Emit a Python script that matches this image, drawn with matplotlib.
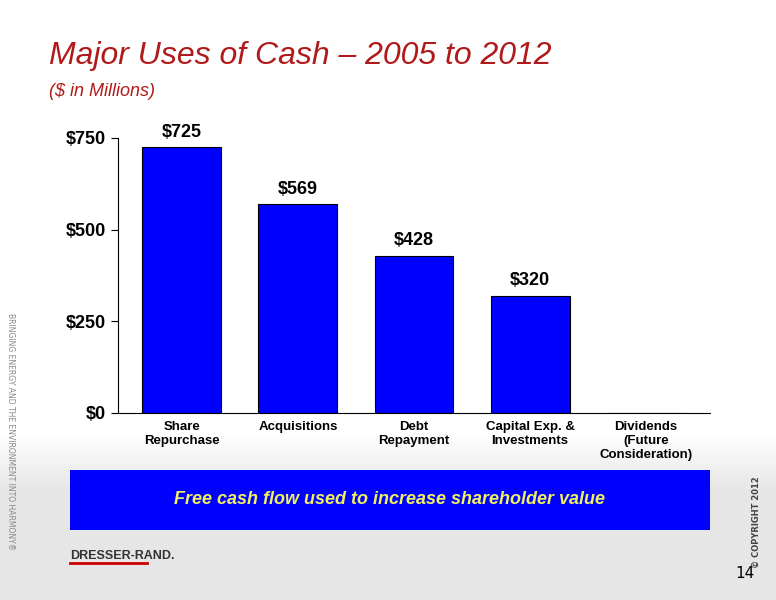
import matplotlib
matplotlib.use("Agg")
import matplotlib.pyplot as plt
import numpy as np

categories = ["Share\nRepurchase", "Acquisitions", "Debt\nRepayment", "Capital Exp. &\nInvestments", "Dividends\n(Future\nConsideration)"]
values = [725, 569, 428, 320, 0]
labels = ["$725", "$569", "$428", "$320", ""]
yticks = [0, 250, 500, 750]
ytick_labels = ["$0", "$250", "$500", "$750"]

fig = plt.figure(figsize=(7.76, 6), dpi=100)
bg = fig.add_axes([0, 0, 1, 1], zorder=-10)
grad = np.ones((600, 1))
for i in range(600):
    if i > 430:
        grad[i, 0] = 1 - 0.1 * min(1, (i - 430) / 60)
bg.imshow(grad, cmap="gray", vmin=0, vmax=1, aspect="auto", extent=[0, 1, 0, 1], origin="upper")
bg.axis("off")

fig.text(0.063, 0.893, "Major Uses of Cash \u2013 2005 to 2012", fontsize=23, style="italic", color="#B01A1A", family="Liberation Sans")
fig.text(0.063, 0.84, "($ in Millions)", fontsize=13, style="italic", color="#B01A1A", family="Liberation Sans")

ax = fig.add_axes([0.152, 0.312, 0.763, 0.458])
x = np.arange(len(categories))
ax.bar(x, values, width=0.68, color="#0000FF", edgecolor="black", linewidth=0.8)
for xi, v, l in zip(x, values, labels):
    if l:
        ax.text(xi, v + 18, l, ha="center", va="bottom", fontsize=13, fontweight="bold", family="Liberation Sans")
ax.set_xlim(-0.55, 4.55)
ax.set_ylim(0, 750)
ax.set_yticks(yticks)
ax.set_yticklabels(ytick_labels, fontsize=13, fontweight="bold", family="Liberation Sans")
ax.set_xticks(x)
ax.set_xticklabels(categories, fontsize=9.5, fontweight="bold", family="Liberation Sans", linespacing=1.2)
ax.tick_params(axis="x", length=0, pad=6)
ax.tick_params(axis="y", direction="out", length=5)
ax.patch.set_alpha(0)
for s in ["top", "right"]:
    ax.spines[s].set_visible(False)

box = fig.add_axes([0.09, 0.117, 0.825, 0.1])
box.set_facecolor("#0000FF")
box.set_xticks([]); box.set_yticks([])
for s in box.spines.values():
    s.set_visible(False)
box.text(0.5, 0.5, "Free cash flow used to increase shareholder value", ha="center", va="center",
         fontsize=13, style="italic", fontweight="bold", color="#F0F060", family="Liberation Sans", transform=box.transAxes)

fig.text(0.014, 0.28, "BRINGING ENERGY AND THE ENVIRONMENT INTO HARMONY\u00ae", rotation=270, fontsize=5.5,
         color="#888888", ha="center", va="center")
fig.text(0.975, 0.13, "\u00a9 COPYRIGHT 2012", rotation=90, fontsize=6, fontweight="bold", color="#444444", ha="center", va="center")
fig.text(0.09, 0.068, "DRESSER-RAND.", fontsize=9, fontweight="bold", color="#333333", family="Liberation Sans")
fig.add_artist(plt.Line2D([0.09, 0.19], [0.062, 0.062], color="#CC0000", linewidth=2))
fig.text(0.972, 0.037, "14", fontsize=11, ha="right", color="black")

fig.savefig("out.png", dpi=100)
